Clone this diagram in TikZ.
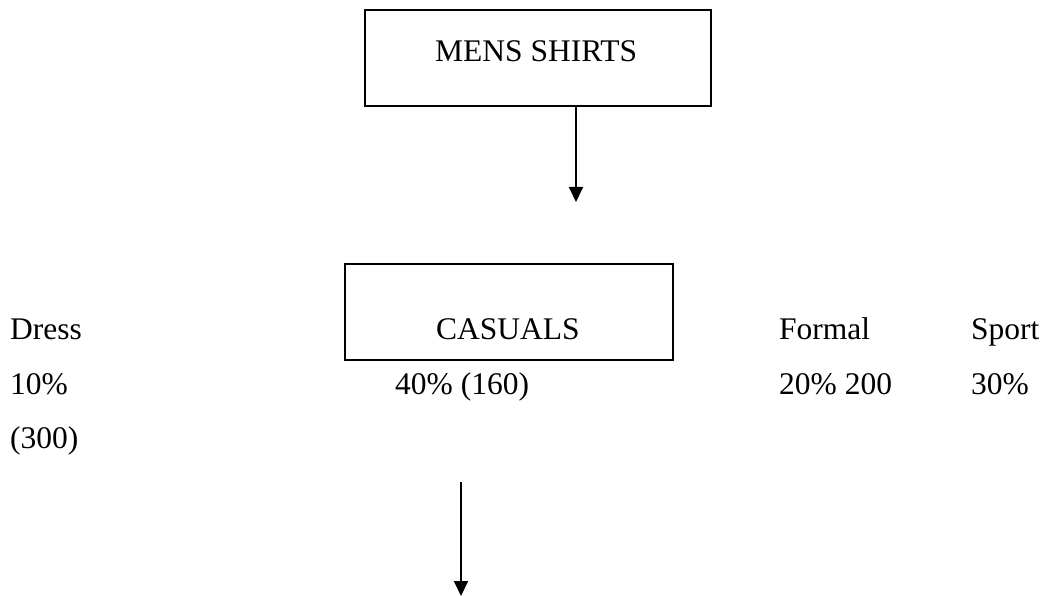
\documentclass[tikz,border=0pt]{standalone}
\usepackage{fontspec}
\setmainfont{Liberation Serif}
\usetikzlibrary{arrows.meta}
\begin{document}
\begin{tikzpicture}[x=1pt,y=-1pt,
  boxnode/.style={draw=black, line width=2pt, rectangle, inner sep=0pt},
  lbl/.style={anchor=base west, inner sep=0pt, font=\fontsize{31.5}{37}\selectfont},
  arr/.style={draw=black, line width=2pt, -{Triangle[width=14pt,length=15pt]}}]
\useasboundingbox (0,0) rectangle (1044,596);
% boxes
\node[boxnode, minimum width=346pt, minimum height=96pt] (top) at (538,58) {};
\node[lbl] (toplbl) at (435,62) {MENS SHIRTS};
\node[boxnode, minimum width=328pt, minimum height=96pt] (cas) at (509,312) {};
\node[lbl] (caslbl) at (436,339) {CASUALS};
% labels
\node[lbl] (dress) at (10,339) {Dress};
\node[lbl] (dressp) at (10,394) {10\%};
\node[lbl] (dressn) at (10,448) {(300)};
\node[lbl] (casp) at (395,394) {40\%  (160)};
\node[lbl] (formal) at (779,339) {Formal};
\node[lbl] (formalp) at (779,394) {20\% 200};
\node[lbl] (sport) at (971,339) {Sport};
\node[lbl] (sportp) at (971,394) {30\%};
% arrows
\coordinate (a1) at (576,202);
\draw[arr] (top.south -| a1) -- (a1);
\coordinate (b0) at (461,482);
\coordinate (b1) at (461,596);
\draw[arr] (b0) -- (b1);
\end{tikzpicture}
\end{document}
